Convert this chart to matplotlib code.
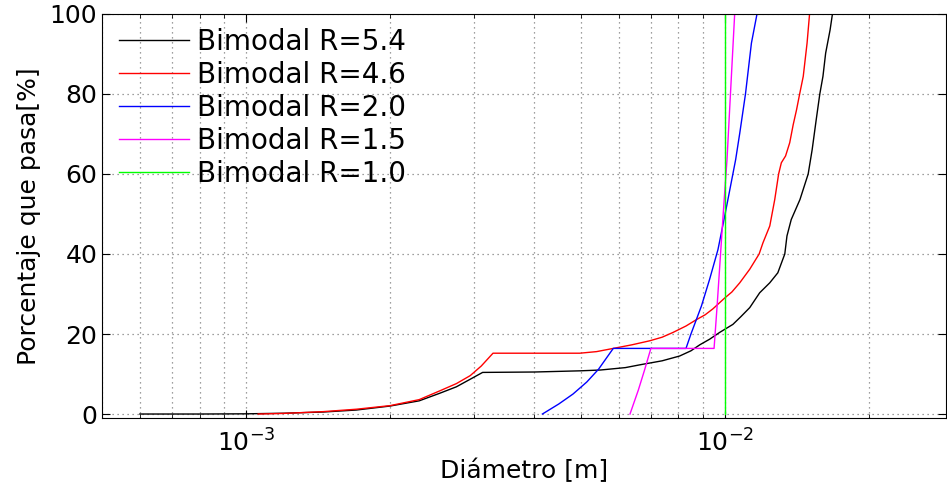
import matplotlib
matplotlib.use('Agg')
import matplotlib.pyplot as plt
from matplotlib.ticker import LogLocator, NullFormatter

# curvas granulometricas (diametro [m], porcentaje que pasa)
d_54 = [6e-4, 7e-4, 8e-4, 1e-3, 1.2e-3, 1.45e-3, 1.7e-3, 2.0e-3, 2.3e-3, 2.54e-3,
        2.75e-3, 2.94e-3, 3.12e-3, 4e-3, 5e-3, 5.5e-3, 6.2e-3, 6.65e-3, 7.4e-3,
        8.05e-3, 8.5e-3, 8.87e-3, 9.3e-3, 9.76e-3, 1.04e-2, 1.08e-2, 1.128e-2,
        1.183e-2, 1.242e-2, 1.291e-2, 1.335e-2, 1.349e-2, 1.377e-2, 1.436e-2,
        1.494e-2, 1.523e-2, 1.553e-2, 1.58e-2, 1.604e-2, 1.625e-2, 1.66e-2, 1.679e-2]
p_54 = [0, 0, 0, 0.05, 0.2, 0.5, 1.0, 2.0, 3.3, 5.2,
        6.8, 8.7, 10.4, 10.5, 10.8, 11.0, 11.6, 12.3, 13.3,
        14.5, 15.8, 17.3, 18.7, 20.4, 22.4, 24.3, 26.6,
        30.3, 32.8, 35.3, 40.0, 44.5, 48.6, 53.6,
        60.0, 66.1, 73.6, 80.0, 84.4, 90.2, 96.0, 100]

d_46 = [1.06e-3, 1.2e-3, 1.45e-3, 1.7e-3, 2.0e-3, 2.3e-3, 2.54e-3, 2.75e-3, 2.94e-3,
        3.1e-3, 3.28e-3, 4e-3, 4.98e-3, 5.4e-3, 5.85e-3, 6.4e-3, 6.97e-3, 7.4e-3,
        7.8e-3, 8.3e-3, 8.73e-3, 9.1e-3, 9.45e-3, 1.0e-2, 1.035e-2, 1.075e-2,
        1.128e-2, 1.18e-2, 1.202e-2, 1.242e-2, 1.272e-2, 1.296e-2, 1.313e-2, 1.34e-2,
        1.367e-2, 1.39e-2, 1.413e-2, 1.434e-2, 1.459e-2, 1.486e-2, 1.504e-2]
p_46 = [0, 0.15, 0.6, 1.2, 2.1, 3.6, 5.8, 7.6, 9.6,
        12.0, 15.2, 15.2, 15.2, 15.6, 16.4, 17.3, 18.3, 19.2,
        20.4, 22.0, 23.6, 24.8, 26.3, 29.0, 30.5, 32.8,
        36.2, 40.0, 42.8, 47.0, 53.6, 60.0, 62.8, 64.5,
        67.8, 72.3, 76.1, 80.0, 84.4, 92.7, 100]

d_20 = [4.16e-3, 4.5e-3, 4.82e-3, 5.15e-3, 5.45e-3, 5.7e-3, 5.85e-3, 8.3e-3, 8.5e-3,
        8.73e-3, 8.94e-3, 9.3e-3, 9.68e-3, 1.0e-2, 1.04e-2, 1.054e-2, 1.075e-2,
        1.105e-2, 1.137e-2, 1.168e-2]
p_20 = [0, 2.5, 5.0, 8.0, 11.2, 14.5, 16.4, 16.4, 20.0,
        23.7, 27.0, 33.7, 41.1, 49.5, 60.0, 63.6, 70.2,
        80.0, 92.7, 100]

d_15 = [6.34e-3, 6.6e-3, 6.8e-3, 7.01e-3, 9.5e-3, 9.64e-3, 9.92e-3, 1.011e-2, 1.049e-2]
p_15 = [0, 6.0, 11.0, 16.4, 16.4, 27.0, 49.5, 63.6, 100]

d_10 = [1.0e-2, 1.0e-2]
p_10 = [0, 100]

series = [
    (d_54, p_54, 'k', 'Bimodal R=5.4'),
    (d_46, p_46, 'r', 'Bimodal R=4.6'),
    (d_20, p_20, 'b', 'Bimodal R=2.0'),
    (d_15, p_15, 'magenta', 'Bimodal R=1.5'),
    (d_10, p_10, 'lime', 'Bimodal R=1.0'),
]

fig = plt.figure(figsize=(9.47, 4.94), dpi=100)
ax = fig.add_axes([0.1077, 0.1538, 0.8913, 0.818])

for d, p, c, lab in series:
    ax.semilogx(d, p, '-', color=c, lw=1.0, label=lab)

ax.set_xlim(5e-4, 2.9e-2)
ax.set_ylim(-1, 100)
ax.set_yticks([0, 20, 40, 60, 80, 100])
ax.xaxis.set_minor_locator(LogLocator(base=10, subs=range(2, 10)))
ax.xaxis.set_minor_formatter(NullFormatter())

grid_ls = (0, (1, 3))
ax.grid(True, which='major', ls=grid_ls, color='0.5', lw=0.9)
ax.grid(True, which='minor', axis='x', ls=grid_ls, color='0.5', lw=0.9)
ax.tick_params(which='both', direction='in', top=True, right=True, labelsize=18)
ax.tick_params(which='major', length=6)
ax.tick_params(which='minor', length=3)
ax.tick_params(axis='x', pad=8)

ax.set_xlabel('Diámetro [m]', fontsize=18, labelpad=2)
ax.set_ylabel('Porcentaje que pasa[%]', fontsize=18, labelpad=6)

ax.legend(loc='upper left', frameon=False, fontsize=20, handlelength=2.5,
          handletextpad=0.3, labelspacing=0.18, borderaxespad=0.1,
          bbox_to_anchor=(0.004, 1.0))

fig.savefig('out.png', dpi=100)
